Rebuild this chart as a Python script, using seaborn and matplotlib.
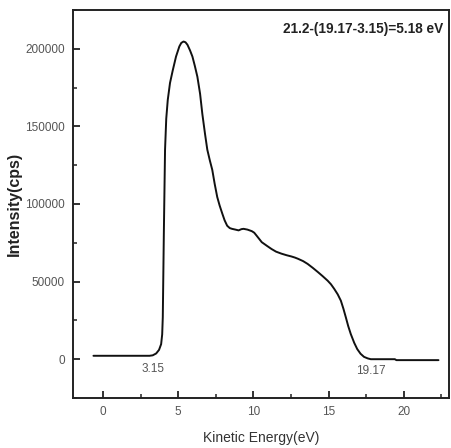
import matplotlib
matplotlib.use("Agg")
import matplotlib.pyplot as plt
import seaborn as sns
import pandas as pd
from matplotlib.ticker import MultipleLocator

energy = [-0.64, 1.0, 2.5, 3.09, 3.3, 3.53, 3.72, 3.86, 3.93, 3.97, 4.0, 4.04, 4.08, 4.12, 4.2, 4.3,
          4.45, 4.63, 4.85, 5.07, 5.2, 5.35, 5.48, 5.61, 5.78, 5.94, 6.1, 6.27, 6.45, 6.6, 6.78, 6.93,
          7.1, 7.26, 7.42, 7.59, 7.75, 7.92, 8.08, 8.25, 8.42, 8.57, 8.8, 9.01, 9.2, 9.34, 9.6, 9.89,
          10.05, 10.2, 10.38, 10.55, 10.9, 11.2, 11.5, 11.86, 12.2, 12.52, 12.75, 12.96, 13.3, 13.6,
          13.95, 14.3, 14.6, 14.93, 15.15, 15.37, 15.6, 15.81, 15.98, 16.14, 16.3, 16.47, 16.7, 16.9,
          17.12, 17.35, 17.6, 17.8, 18.5, 19.4, 19.5, 21.0, 22.3]
intensity = [2200, 2200, 2200, 2200, 2500, 3700, 6000, 9700, 16000, 27000, 50000, 81000, 108000,
             135000, 155000, 167000, 178000, 186000, 195000, 201500, 203800, 204700, 204200, 202600,
             199000, 195000, 189000, 182000, 171000, 158000, 145000, 135000, 128000, 122000, 113000,
             104500, 99000, 94000, 89500, 86000, 84500, 84000, 83500, 83000, 83800, 84000, 83500, 82500,
             81500, 79700, 77500, 75400, 73000, 71000, 69300, 68000, 67000, 66200, 65500, 64700, 63200,
             61400, 58800, 56000, 53500, 50600, 48300, 45300, 41800, 37700, 32500, 27000, 21300, 16200,
             10500, 6500, 3500, 1500, 500, 0, 0, 0, -600, -600, -600]
xticks = [0, 5, 10, 15, 20]
yticks = [0, 50000, 100000, 150000, 200000]
ann_text = "21.2-(19.17-3.15)=5.18 eV"
marks = [(3.15, "3.15"), (19.17, "19.17")]

df = pd.DataFrame({"Kinetic Energy(eV)": energy, "Intensity(cps)": intensity})

sns.set_style("ticks")
plt.rcParams["font.family"] = ["Liberation Sans", "DejaVu Sans"]

fig = plt.figure(figsize=(4.51, 4.48), dpi=100)
ax = fig.add_axes([73 / 451, 50 / 448, 376 / 451, 388 / 448])

sns.lineplot(data=df, x="Kinetic Energy(eV)", y="Intensity(cps)", ax=ax,
             color="#111111", linewidth=1.4, sort=False, estimator=None)

ax.set_xlim(-2, 23)
ax.set_ylim(-25000, 225000)
ax.set_xticks(xticks)
ax.set_yticks(yticks)
ax.set_xticklabels([str(t) for t in xticks])
ax.set_yticklabels([str(t) for t in yticks])
ax.xaxis.set_minor_locator(MultipleLocator(2.5))
ax.yaxis.set_minor_locator(MultipleLocator(25000))
ax.tick_params(axis="both", which="major", direction="in", length=5, width=1.3,
               labelsize=8.5, labelcolor="#555555", color="#222222", pad=6)
ax.tick_params(axis="both", which="minor", direction="in", length=3, width=1.1, color="#222222")
for s in ax.spines.values():
    s.set_linewidth(1.4)
    s.set_color("#222222")

ax.set_xlabel("Kinetic Energy(eV)", fontsize=10, color="#333333")
ax.xaxis.set_label_coords(0.5, -0.085)
ax.set_ylabel("Intensity(cps)", fontsize=11.5, fontweight="bold", color="#222222")
ax.yaxis.set_label_coords(-0.135, 0.5)

ax.text(0.985, 0.95, ann_text, transform=ax.transAxes, ha="right", va="center",
        fontsize=9.8, fontweight="bold", color="#222222")
ax.text(marks[0][0] + 0.15, -6500, marks[0][1], ha="center", va="center",
        fontsize=8.5, color="#555555")
ax.text(marks[1][0] - 1.35, -7500, marks[1][1], ha="center", va="center",
        fontsize=8.5, color="#555555")

fig.savefig("out.png", dpi=100)
